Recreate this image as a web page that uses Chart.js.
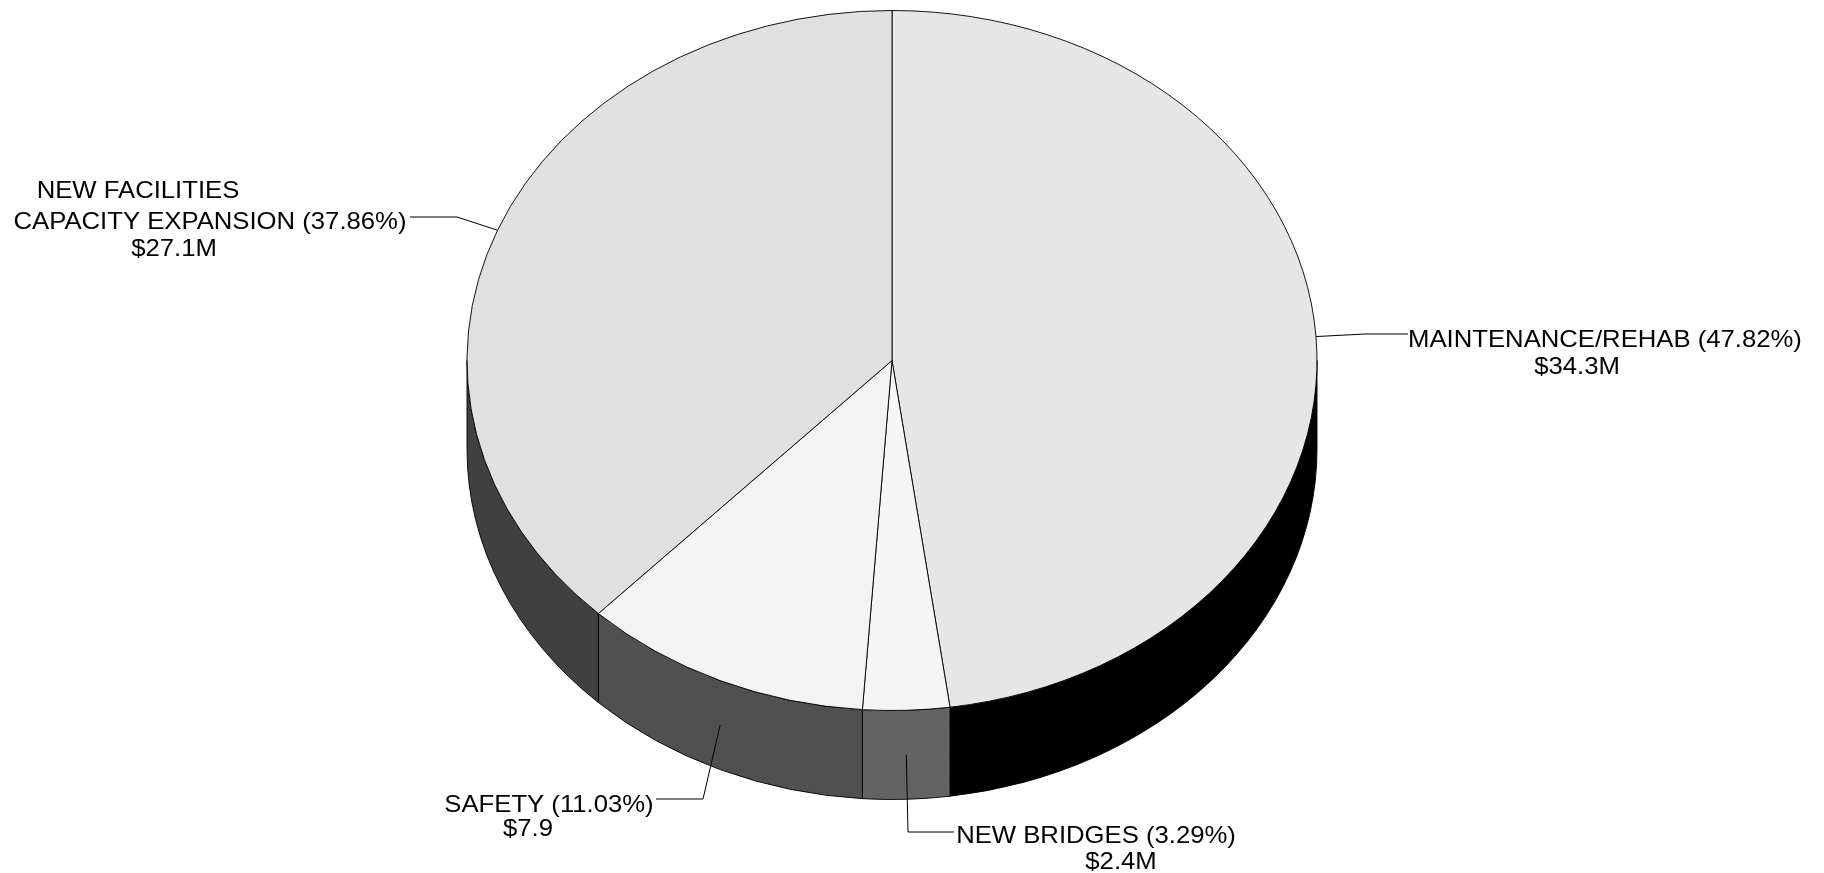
<!DOCTYPE html>
<html>
<head>
<meta charset="utf-8">
<title>Funding pie</title>
<script src="https://cdn.jsdelivr.net/npm/chart.js@4/dist/chart.umd.min.js"></script>
<style>
  html, body { margin: 0; padding: 0; background: #fff; }
  canvas { display: block; }
</style>
</head>
<body>
<canvas id="pie" width="1824" height="873"></canvas>
<script>
// chart values, clockwise from 12 o'clock
const categories = ["MAINTENANCE/REHAB", "NEW BRIDGES", "SAFETY", "NEW FACILITIES\nCAPACITY EXPANSION"];
const shares = [47.82, 3.29, 11.03, 37.86];
const amounts = ["$34.3M", "$2.4M", "$7.9", "$27.1M"];

const topColors = ["#e6e6e6", "#f5f5f5", "#f3f3f3", "#e0e0e0"];
const wallColors = ["#000000", "#636363", "#505050", "#404040"];

// the round pie is squashed to this height and given a wall of this depth
const PIE_RADIUS = 425;
const FACE_RY = 350;
const FACE_CY = 360.5;
const WALL_DEPTH = 89;
const squash = FACE_RY / PIE_RADIUS;
// the labels in the picture are wider than the font draws them
const TEXT_STRETCH = 1.07;

// where each label sits: leader elbow, leader end, then one [centre x, baseline y] per text line
const labelLayout = [
  { elbow: [1365, 334], end: [1408, 334], lines: [[1605, 347], [1577, 374]], onWall: false },
  { elbow: [908, 832], end: [954, 832], lines: [[1096, 843], [1121, 869]], onWall: true },
  { elbow: [703, 799], end: [656, 799], lines: [[549, 812], [528, 836]], onWall: true },
  { elbow: [457, 217], end: [410, 217], lines: [[138, 198], [210, 229], [174, 256]], onWall: false },
];

const squashedPie = {
  id: "squashedPie",
  beforeDatasetsDraw(chart) {
    const ctx = chart.ctx;
    const arcs = chart.getDatasetMeta(0).data;
    const cy = arcs[0].y;
    ctx.save();
    ctx.translate(0, FACE_CY);
    ctx.scale(1, squash);
    ctx.translate(0, -cy);

    // wall of each slice, only the part on the front half shows
    const depth = WALL_DEPTH / squash;
    arcs.forEach((arc, i) => {
      const from = Math.max(arc.startAngle, 0);
      const to = Math.min(arc.endAngle, Math.PI);
      if (to <= from) return;
      ctx.beginPath();
      ctx.arc(arc.x, cy, arc.outerRadius, from, to);
      ctx.arc(arc.x, cy + depth, arc.outerRadius, to, from, true);
      ctx.closePath();
      ctx.fillStyle = wallColors[i];
      ctx.fill();
      ctx.lineWidth = 1;
      ctx.strokeStyle = "#000";
      ctx.stroke();
    });
  },
  afterDatasetsDraw(chart) {
    const ctx = chart.ctx;
    ctx.restore();

    const arcs = chart.getDatasetMeta(0).data;
    ctx.save();
    ctx.strokeStyle = "#000";
    ctx.lineWidth = 1;
    ctx.fillStyle = "#000";
    ctx.font = '24px "Liberation Sans"';
    ctx.textAlign = "center";
    ctx.textBaseline = "alphabetic";

    arcs.forEach((arc, i) => {
      const layout = labelLayout[i];
      const mid = (arc.startAngle + arc.endAngle) / 2;
      const ax = arc.x + arc.outerRadius * Math.cos(mid);
      let ay = FACE_CY + FACE_RY * Math.sin(mid);
      if (layout.onWall) ay += WALL_DEPTH / 2;

      ctx.beginPath();
      ctx.moveTo(ax, ay);
      ctx.lineTo(layout.elbow[0], layout.elbow[1]);
      ctx.lineTo(layout.end[0], layout.end[1]);
      ctx.stroke();

      const nameLines = categories[i].split("\n");
      nameLines[nameLines.length - 1] += " (" + shares[i].toFixed(2) + "%)";
      const text = nameLines.concat(amounts[i]);
      text.forEach((line, n) => {
        ctx.save();
        ctx.translate(layout.lines[n][0], layout.lines[n][1]);
        ctx.scale(TEXT_STRETCH, 1);
        ctx.fillText(line, 0, 0);
        ctx.restore();
      });
    });
    ctx.restore();
  },
};

new Chart(document.getElementById("pie"), {
  type: "pie",
  data: {
    labels: categories,
    datasets: [{
      data: shares,
      backgroundColor: topColors,
      borderColor: "#000",
      borderWidth: 1,
      radius: PIE_RADIUS,
    }],
  },
  options: {
    responsive: false,
    animation: false,
    devicePixelRatio: 1,
    layout: { padding: { right: 40 } },
    plugins: { legend: { display: false }, tooltip: { enabled: false } },
  },
  plugins: [squashedPie],
});
</script>
</body>
</html>
